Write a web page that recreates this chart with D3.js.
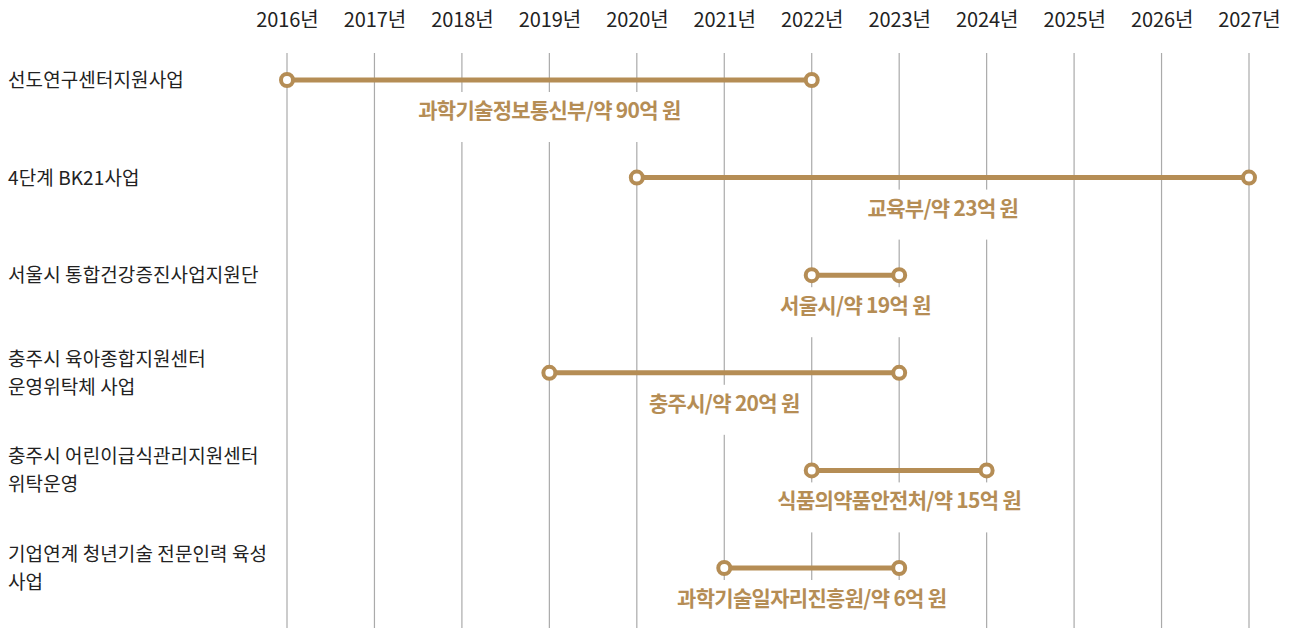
<!DOCTYPE html>
<html>
<head>
<meta charset="utf-8">
<script src="https://cdn.jsdelivr.net/npm/d3@7"></script>
<style>
  body { margin: 0; background: #fff; }
  svg { display: block; font-family: "Noto Sans CJK KR", "Noto Sans", sans-serif; }
</style>
</head>
<body>
<div id="chart"></div>
<script>
// Data
const years = [2016, 2017, 2018, 2019, 2020, 2021, 2022, 2023, 2024, 2025, 2026, 2027];
const projects = [
    ['선도연구센터지원사업'],
    ['4단계 BK21사업'],
    ['서울시 통합건강증진사업지원단'],
    ['충주시 육아종합지원센터', '운영위탁체 사업'],
    ['충주시 어린이급식관리지원센터', '위탁운영'],
    ['기업연계 청년기술 전문인력 육성', '사업']
];
const startYears = [2016, 2020, 2022, 2019, 2022, 2021];
const endYears = [2022, 2027, 2023, 2023, 2024, 2023];
const funders = ['과학기술정보통신부/약 90억 원', '교육부/약 23억 원', '서울시/약 19억 원', '충주시/약 20억 원', '식품의약품안전처/약 15억 원', '과학기술일자리진흥원/약 6억 원'];

const width = 1298, height = 628;
const gold = '#b58d55';

const svg = d3.select('#chart').append('svg')
    .attr('width', width)
    .attr('height', height);

const x = d3.scaleLinear().domain([2016, 2027]).range([287, 1249]);
const y = d3.scalePoint().domain(d3.range(projects.length)).range([80, 568]);

// Year axis on top
const axis = d3.axisTop(x)
    .tickValues(years)
    .tickSize(0)
    .tickFormat(d => d + '년');
const ax = svg.append('g')
    .attr('transform', 'translate(0,30)')
    .call(axis);
ax.select('.domain').remove();
ax.selectAll('text')
    .attr('font-family', '"Noto Sans CJK KR", sans-serif')
    .attr('font-size', 20)
    .attr('letter-spacing', -0.1)
    .attr('fill', '#222');

// Grid lines
svg.append('g')
    .selectAll('line')
    .data(years)
    .join('line')
    .attr('x1', d => x(d))
    .attr('x2', d => x(d))
    .attr('y1', 53)
    .attr('y2', height)
    .attr('stroke', '#aaa')
    .attr('stroke-width', 1.2);

// Row labels
const rowLabels = svg.append('g');
projects.forEach((lines, i) => {
    const t = rowLabels.append('text')
        .attr('x', 8)
        .attr('y', y(i) - (lines.length - 1) * 14 + 7)
        .attr('font-size', 19)
        .attr('fill', '#222')
        .attr('letter-spacing', 0.1);
    lines.forEach((l, j) => {
        t.append('tspan')
            .attr('x', 8)
            .attr('dy', j === 0 ? 0 : 28)
            .text(l);
    });
});

// Bars and funder labels
const rows = svg.append('g')
    .selectAll('g')
    .data(funders)
    .join('g');

rows.each(function (d, i) {
    const g = d3.select(this);
    const mid = (x(startYears[i]) + x(endYears[i])) / 2;
    const txt = g.append('text')
        .attr('x', mid)
        .attr('y', y(i) + 38)
        .attr('text-anchor', 'middle')
        .attr('font-size', 21)
        .attr('font-weight', 700)
        .attr('letter-spacing', -0.7)
        .attr('fill', gold)
        .text(d);
    const bb = txt.node().getBBox();
    g.insert('rect', 'text')
        .attr('x', bb.x - 6)
        .attr('y', y(i) + 12)
        .attr('width', bb.width + 12)
        .attr('height', 50)
        .attr('fill', '#fff');

    g.append('line')
        .attr('x1', x(startYears[i]))
        .attr('x2', x(endYears[i]))
        .attr('y1', y(i))
        .attr('y2', y(i))
        .attr('stroke', gold)
        .attr('stroke-width', 5);

    g.selectAll('circle')
        .data([startYears[i], endYears[i]])
        .join('circle')
        .attr('cx', v => x(v))
        .attr('cy', y(i))
        .attr('r', 6)
        .attr('fill', '#fff')
        .attr('stroke', gold)
        .attr('stroke-width', 4);
});
</script>
</body>
</html>
